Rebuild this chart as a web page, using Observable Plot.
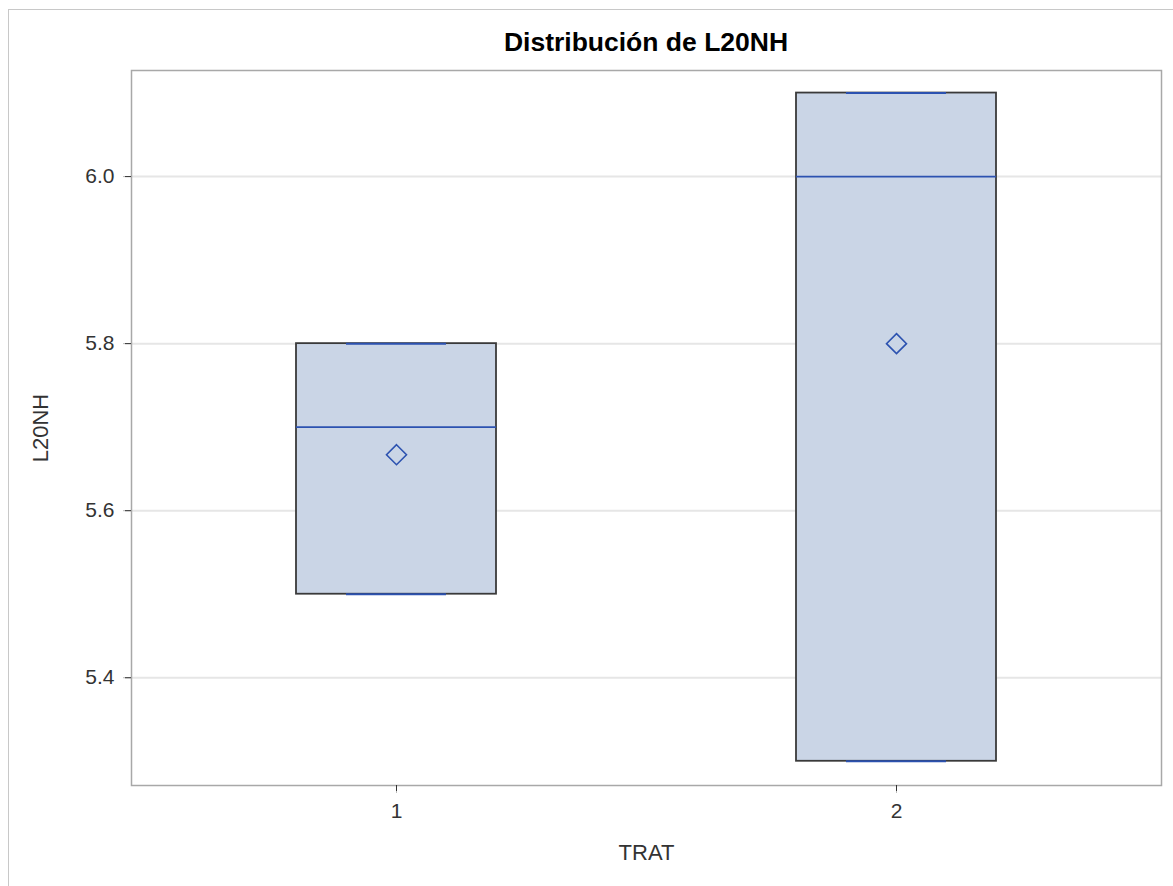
<!DOCTYPE html>
<html>
<head>
<meta charset="utf-8">
<script src="https://cdn.jsdelivr.net/npm/d3@7"></script>
<script src="https://cdn.jsdelivr.net/npm/@observablehq/plot@0.6"></script>
<style>
  html, body { margin: 0; padding: 0; background: #fff; }
  #wrap { position: relative; width: 1173px; height: 886px; overflow: hidden; }
  #border { position: absolute; left: 8px; top: 9px; width: 1180px; height: 890px; border: 1px solid #c8c8c8; box-sizing: border-box; }
  #title { position: absolute; left: 131px; width: 1030px; top: 27px; text-align: center;
           font: bold 26.5px "Liberation Sans", Arial, sans-serif; color: #000; }
  #chart { position: absolute; left: 0; top: 0; }
</style>
</head>
<body>
<div id="wrap">
  <div id="border"></div>
  <div id="chart"></div>
  <div id="title">Distribución de L20NH</div>
</div>
<script>
// Data
const trat    = ["1", "2"];
const minV    = [5.5, 5.3];
const q1V     = [5.5, 5.3];
const medianV = [5.7, 6.0];
const q3V     = [5.8, 6.1];
const maxV    = [5.8, 6.1];
const meanV   = [5.667, 5.8];
const yTicks  = [5.4, 5.6, 5.8, 6.0];

const rows = trat.map((t, i) => ({
  trat: t, min: minV[i], q1: q1V[i], median: medianV[i], q3: q3V[i], max: maxV[i], mean: meanV[i]
}));

const boxFill = "#cad5e6";
const boxStroke = "#3a3a3a";
const blue = "#2c52b0";

const chart = Plot.plot({
  width: 1173,
  height: 886,
  marginLeft: 131,
  marginRight: 12,
  marginTop: 70,
  marginBottom: 101,
  style: { fontFamily: "'Liberation Sans', Arial, sans-serif", fontSize: "21px", color: "#333", background: "transparent" },
  x: { domain: trat, type: "band", paddingInner: 0.6, paddingOuter: 0.33 },
  y: { domain: [5.271, 6.127] },
  marks: [
    Plot.gridY(yTicks, { stroke: "#e6e6e6", strokeOpacity: 1, strokeWidth: 2 }),
    Plot.frame({ stroke: "#a8a8a8", strokeWidth: 1.5 }),
    Plot.axisY(yTicks, {
      tickFormat: d3.format(".1f"), tickSize: 8, tickPadding: 9, stroke: "#bbb",
      fontSize: 21, fill: "#333", label: null
    }),
    Plot.axisY(yTicks, {
      tick: false, text: null, fontSize: 22, fill: "#333",
      label: "L20NH", labelAnchor: "center", labelArrow: "none", labelOffset: 99
    }),
    Plot.axisX({
      tickSize: 8, tickPadding: 10, stroke: "#bbb", fontSize: 21, fill: "#333", label: null
    }),
    Plot.axisX({
      tick: false, text: null, fontSize: 22, fill: "#333",
      label: "TRAT", labelAnchor: "center", labelArrow: "none", labelOffset: 74
    }),
    Plot.barY(rows, { x: "trat", y1: "q1", y2: "q3", fill: boxFill, stroke: boxStroke, strokeWidth: 1.8 }),
    Plot.tickY(rows, { x: "trat", y: "median", stroke: blue, strokeWidth: 1.6 }),
    Plot.tickY(rows, { x: "trat", y: "min", stroke: blue, strokeWidth: 2, insetLeft: 50, insetRight: 50 }),
    Plot.tickY(rows, { x: "trat", y: "max", stroke: blue, strokeWidth: 2, insetLeft: 50, insetRight: 50 }),
    Plot.ruleX(rows, { x: "trat", y1: "min", y2: "q1", stroke: boxStroke }),
    Plot.ruleX(rows, { x: "trat", y1: "q3", y2: "max", stroke: boxStroke }),
    Plot.dot(rows, { x: "trat", y: "mean", symbol: "diamond2", r: 9, stroke: blue, strokeWidth: 1.6, fill: "none" })
  ]
});
document.getElementById("chart").appendChild(chart);
</script>
</body>
</html>
